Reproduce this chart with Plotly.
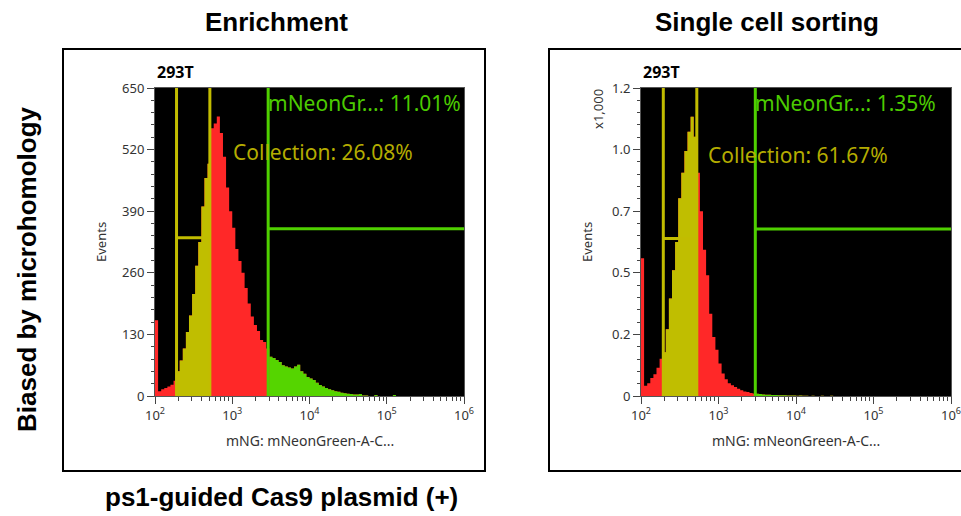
import numpy as np
import plotly.graph_objects as go

# ---------------- data ----------------
BIN_DECADES = 0.04          # histogram bin width in log10 units, starting at 10^2

enrich_counts = [160, 10, 14, 17, 20, 24, 32,
                 52, 75, 100, 135, 170, 215, 275, 325, 400, 460, 490,
                 565, 575, 590, 555, 505, 440, 390, 355, 310, 285, 260, 228, 195, 168, 150, 137, 118, 114, 100,
                 83, 80, 76, 72, 65, 62, 60, 58, 62, 66, 52, 47, 40, 37, 34, 28, 23, 20, 17, 14, 12, 10, 9,
                 7, 6, 5, 4, 3, 3, 4, 1, 1, 0, 0, 2, 0, 0, 0, 0, 0, 2, 0, 0, 0]

single_counts = [537, 40, 50, 70, 85, 110, 145,
                 170, 260, 380, 490, 600, 770, 870, 955, 1030, 1088, 1010,
                 870, 720, 570, 470, 320, 230, 180, 127, 88, 65, 50, 42, 35, 28, 22, 18, 16, 12, 10,
                 9, 8, 6, 5, 5, 4, 4, 3, 3, 3, 2, 2, 2, 1, 2, 1, 1, 0, 1, 0, 0, 1, 0, 0, 1, 0, 0]

# gates: [collection low, collection high, mNeonGreen low]
enrich_gates = [190, 513, 2917]
single_gates = [194, 525, 2985]
# horizontal gate levels: [collection, mNeonGreen]
enrich_gate_levels = [334, 353]
single_gate_levels = [614, 651]

panel_titles = ["Enrichment", "Single cell sorting"]
labels_green = ["mNeonGr...: 11.01%", "mNeonGr...: 1.35%"]
labels_coll = ["Collection: 26.08%", "Collection: 61.67%"]
x_tickvals = [1e2, 1e3, 1e4, 1e5, 1e6]
x_ticktext = ["10<sup>2</sup>", "10<sup>3</sup>", "10<sup>4</sup>", "10<sup>5</sup>", "10<sup>6</sup>"]
y1_tickvals = [0, 130, 260, 390, 520, 650]
y2_tickvals = [0, 240, 480, 720, 960, 1200]
y2_ticktext = ["0", "0.2", "0.5", "0.7", "1.0", "1.2"]

# ---------------- styles ----------------
RED = "#FF2828"
YEL = "#C0BE00"
GRN = "#55D500"
YEL_LINE = "#C2BC00"
GRN_LINE = "#4FD000"
COLL_TXT = "#B4AC00"
GRN_TXT = "#4CCB00"
INNER_FONT = "Noto Sans"
BOLD_FONT = "Liberation Sans"

W, H = 961, 516


def px_x(p):
    return p / W


def px_y(p):
    return 1 - p / H


def step_xy(counts, i0, i1):
    n = len(counts)
    edges = 10 ** (2 + BIN_DECADES * np.arange(n + 1))
    xs = list(edges[i0:i1 + 1])
    ys = list(counts[i0:i1]) + [counts[i1 - 1]]
    return xs, ys


fig = go.Figure()


def add_hist(counts, gates, xa, ya):
    n = len(counts)
    centers = 10 ** (2 + BIN_DECADES * (np.arange(n) + 0.5))
    yel_idx = [i for i in range(n) if gates[0] <= centers[i] <= gates[1]]
    grn_idx = [i for i in range(n) if centers[i] >= gates[2]]
    for (i0, i1, col) in [(0, n, RED),
                          (yel_idx[0], yel_idx[-1] + 1, YEL),
                          (grn_idx[0], grn_idx[-1] + 1, GRN)]:
        xs, ys = step_xy(counts, i0, i1)
        fig.add_trace(go.Scatter(x=xs, y=ys, mode="lines", line=dict(shape="hv", width=0, color=col),
                                 fill="tozeroy", fillcolor=col, xaxis=xa, yaxis=ya,
                                 showlegend=False, hoverinfo="skip"))


add_hist(enrich_counts, enrich_gates, "x", "y")
add_hist(single_counts, single_gates, "x2", "y2")

# gate shapes
for gates, levels, xr, yr, ymax in [(enrich_gates, enrich_gate_levels, "x", "y", 650),
                                     (single_gates, single_gate_levels, "x2", "y2", 1200)]:
    for g, col in [(gates[0], YEL_LINE), (gates[1], YEL_LINE), (gates[2], GRN_LINE)]:
        fig.add_shape(type="line", xref=xr, yref=yr, x0=g, x1=g, y0=0, y1=ymax,
                      line=dict(color=col, width=3))
    fig.add_shape(type="line", xref=xr, yref=yr, x0=gates[0], x1=gates[1], y0=levels[0], y1=levels[0],
                  line=dict(color=YEL_LINE, width=3))
    fig.add_shape(type="line", xref=xr, yref=yr, x0=gates[2], x1=1e6, y0=levels[1], y1=levels[1],
                  line=dict(color=GRN_LINE, width=3))

# panel frames
fig.add_shape(type="rect", xref="paper", yref="paper", x0=px_x(63), x1=px_x(485), y0=px_y(471), y1=px_y(49),
              line=dict(color="black", width=2))
fig.add_shape(type="rect", xref="paper", yref="paper", x0=px_x(549), x1=px_x(975), y0=px_y(471), y1=px_y(49),
              line=dict(color="black", width=2))

axis_common = dict(showline=True, linecolor="#555555", linewidth=1, mirror=True, showgrid=False,
                   zeroline=False, ticks="outside", tickcolor="#444444",
                   tickfont=dict(family=INNER_FONT, size=13, color="#333333"))

fig.update_layout(
    width=W, height=H, margin=dict(l=0, r=0, t=0, b=0, autoexpand=False),
    paper_bgcolor="white", plot_bgcolor="black",
    xaxis=dict(domain=[px_x(155), px_x(464)], type="log", range=[2, 6], anchor="y",
               tickvals=x_tickvals, ticktext=x_ticktext, ticklen=7, ticklabeloverflow="allow",
               minor=dict(ticks="outside", ticklen=4, dtick="D1", tickcolor="#444444"), **axis_common),
    yaxis=dict(domain=[px_y(396), px_y(88)], range=[0, 650], anchor="x",
               tickvals=y1_tickvals, ticklen=7,
               minor=dict(ticks="outside", ticklen=3, dtick=26, tickcolor="#444444"), **axis_common),
    xaxis2=dict(domain=[px_x(641), px_x(951)], type="log", range=[2, 6], anchor="y2",
                tickvals=x_tickvals, ticktext=x_ticktext, ticklen=7, ticklabeloverflow="allow",
                minor=dict(ticks="outside", ticklen=4, dtick="D1", tickcolor="#444444"), **axis_common),
    yaxis2=dict(domain=[px_y(396), px_y(88)], range=[0, 1200], anchor="x2",
                tickvals=y2_tickvals, ticktext=y2_ticktext, ticklen=7,
                minor=dict(ticks="outside", ticklen=3, dtick=48, tickcolor="#444444"), **axis_common),
)

ann = []
bold = dict(family=BOLD_FONT, size=26, color="black")
ann.append(dict(text="<b>" + panel_titles[0] + "</b>", x=px_x(276), y=px_y(22), font=bold))
ann.append(dict(text="<b>" + panel_titles[1] + "</b>", x=px_x(767), y=px_y(22), font=bold))
ann.append(dict(text="<b>Biased by microhomology</b>", x=px_x(27), y=px_y(269), font=bold, textangle=-90))
ann.append(dict(text="<b>ps1-guided Cas9 plasmid (+)</b>", x=px_x(281), y=px_y(497), font=bold))
for i, (xl, xc) in enumerate([(155, 310), (641, 796)]):
    ann.append(dict(text="<b>293T</b>", x=px_x(xl), y=px_y(72), xanchor="left",
                    font=dict(family=INNER_FONT, size=16, color="black")))
    ann.append(dict(text="mNG: mNeonGreen-A-C...", x=px_x(xc), y=px_y(440),
                    font=dict(family=INNER_FONT, size=14, color="#333333")))
ann.append(dict(text="Events", x=px_x(101), y=px_y(242), textangle=-90,
                font=dict(family=INNER_FONT, size=13, color="#333333")))
ann.append(dict(text="Events", x=px_x(587), y=px_y(242), textangle=-90,
                font=dict(family=INNER_FONT, size=13, color="#333333")))
ann.append(dict(text="x1,000", x=px_x(598), y=px_y(109), textangle=-90,
                font=dict(family=INNER_FONT, size=13, color="#333333")))
ann.append(dict(text=labels_green[0], x=px_x(266), y=px_y(103), xanchor="left",
                font=dict(family=INNER_FONT, size=21, color=GRN_TXT)))
ann.append(dict(text=labels_coll[0], x=px_x(231), y=px_y(152), xanchor="left",
                font=dict(family=INNER_FONT, size=21, color=COLL_TXT)))
ann.append(dict(text=labels_green[1], x=px_x(753), y=px_y(103), xanchor="left",
                font=dict(family=INNER_FONT, size=21, color=GRN_TXT)))
ann.append(dict(text=labels_coll[1], x=px_x(706), y=px_y(155), xanchor="left",
                font=dict(family=INNER_FONT, size=21, color=COLL_TXT)))
for a in ann:
    a.setdefault("xref", "paper")
    a.setdefault("yref", "paper")
    a.setdefault("xanchor", "center")
    a.setdefault("yanchor", "middle")
    a.setdefault("showarrow", False)
    fig.add_annotation(**a)

fig.write_html("out.html", config={"displayModeBar": False},
               post_script="document.body.style.margin='0px';document.body.style.overflow='hidden';")
